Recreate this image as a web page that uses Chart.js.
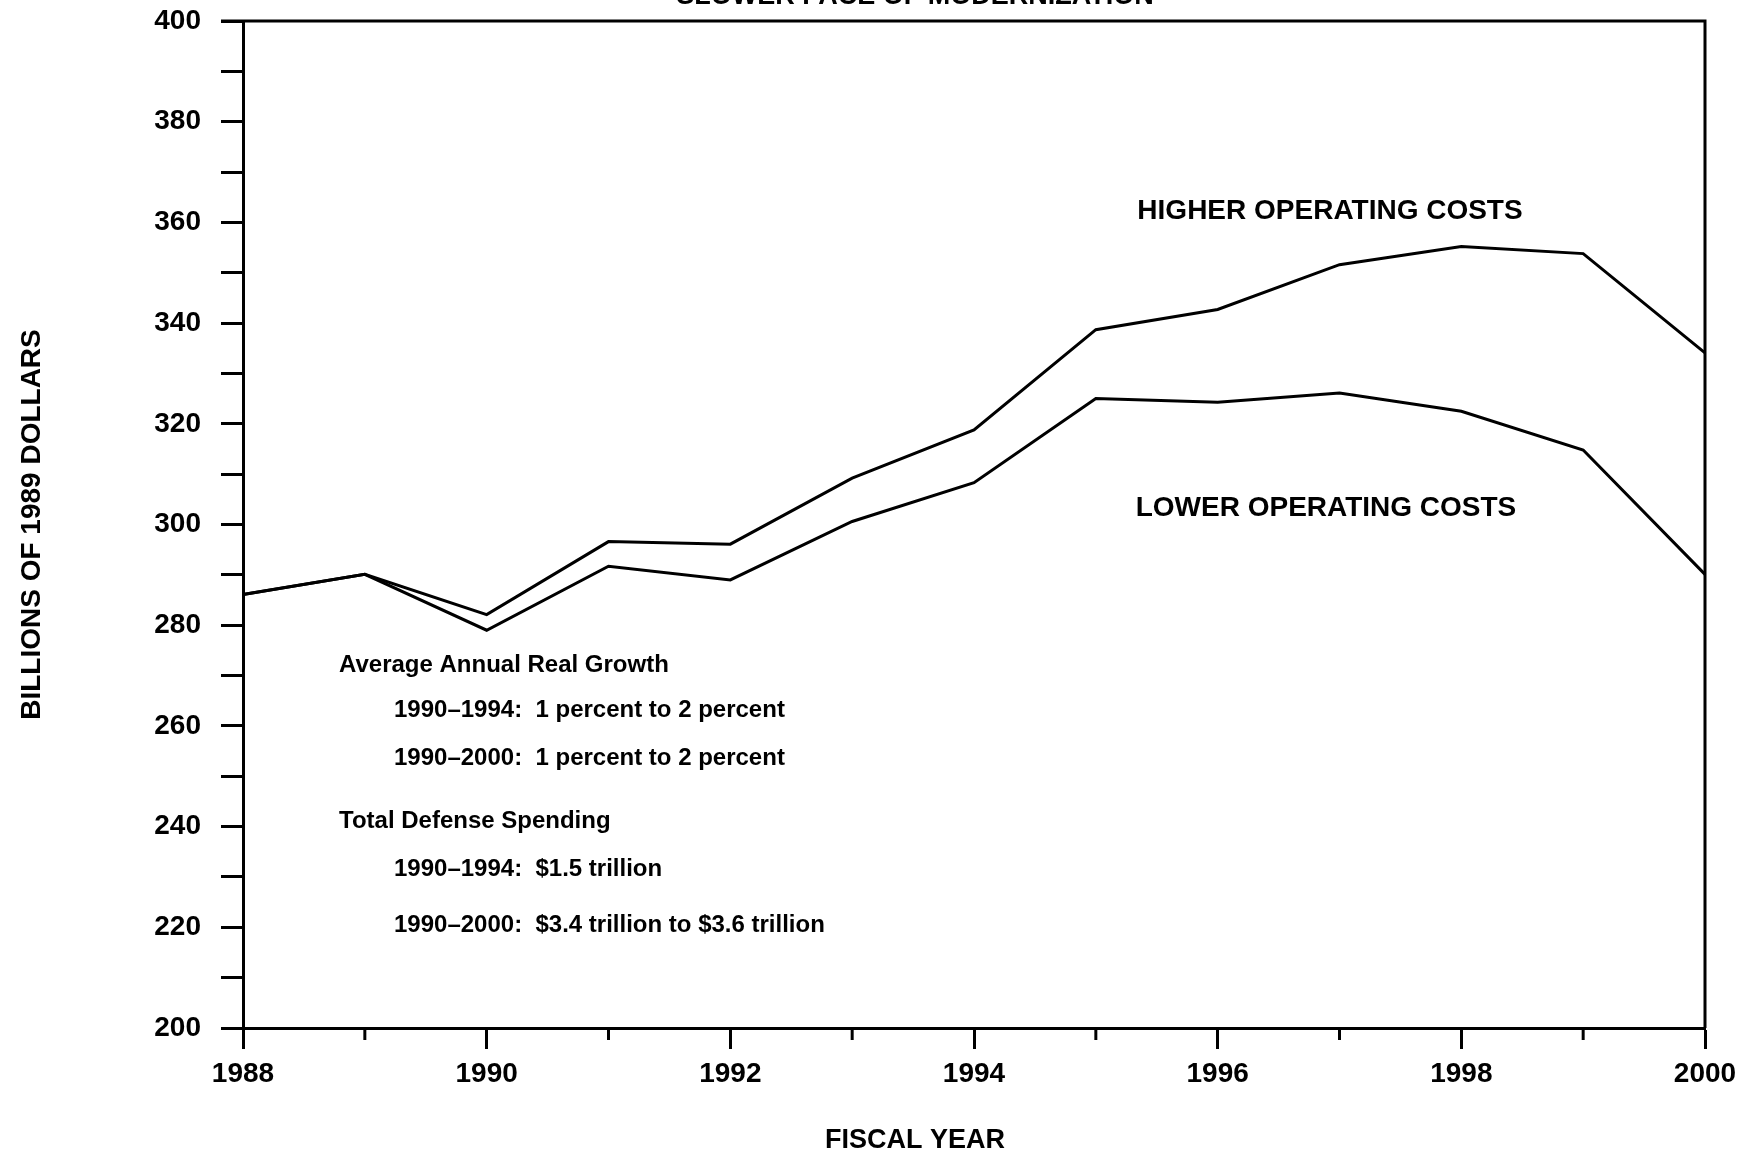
<!DOCTYPE html>
<html>
<head>
<meta charset="utf-8">
<script src="https://cdn.jsdelivr.net/npm/chart.js@4.4.1/dist/chart.umd.min.js"></script>
<style>
  body { margin: 0; background: #fff; }
  canvas { display: block; }
</style>
</head>
<body>
<canvas id="chart" width="1750" height="1156"></canvas>
<script>
// ============================= data

const years = ['1988', '1989', '1990', '1991', '1992', '1993', '1994', '1995', '1996', '1997', '1998', '1999', '2000']
const higherCosts = [286.1, 290.1, 282.1, 296.6, 296.1, 309.2, 318.8, 338.7, 342.7, 351.6, 355.2, 353.8, 334.1]
const lowerCosts = [286.1, 290.1, 279.0, 291.7, 289.0, 300.6, 308.3, 325.0, 324.3, 326.1, 322.5, 314.8, 290.1]

const chartTitle = 'SLOWER PACE OF MODERNIZATION'
const xTitle = 'FISCAL YEAR'
const yTitle = 'BILLIONS OF 1989 DOLLARS'
const seriesLabels = ['HIGHER OPERATING COSTS', 'LOWER OPERATING COSTS']
const noteHeads = ['Average Annual Real Growth', 'Total Defense Spending']
const noteLines = [
    '1990\u20131994:  1 percent to 2 percent',
    '1990\u20132000:  1 percent to 2 percent',
    '1990\u20131994:  $1.5 trillion',
    '1990\u20132000:  $3.4 trillion to $3.6 trillion'
]

const FONT = "'Liberation Sans', Arial, sans-serif"
Chart.defaults.font.family = FONT
Chart.defaults.color = '#000'

// ============================= frame, minor ticks and free text

const framePlugin = {
    id: 'frame',
    afterDraw(chart) {
        const { ctx, chartArea: a, scales: { x } } = chart
        ctx.save()
        ctx.strokeStyle = '#000'
        ctx.lineWidth = 3
        ctx.beginPath()
        ctx.moveTo(a.left - 22, a.top)   // top border starts at the 400 tick
        ctx.lineTo(a.right, a.top)
        ctx.lineTo(a.right, a.bottom)
        ctx.stroke()

        // short ticks on odd years
        for (let i = 1; i < years.length; i += 2) {
            const px = x.getPixelForValue(i)
            ctx.beginPath()
            ctx.moveTo(px, a.bottom)
            ctx.lineTo(px, a.bottom + 12)
            ctx.stroke()
        }

        ctx.fillStyle = '#000'
        ctx.textAlign = 'center'
        ctx.textBaseline = 'alphabetic'
        ctx.font = `bold 27px ${FONT}`
        ctx.fillText(chartTitle, 915, 4) // clipped at the top like the scan

        ctx.textBaseline = 'middle'
        ctx.font = `bold 27px ${FONT}`
        ctx.fillText(xTitle, 915, 1141)

        ctx.font = `bold 28px ${FONT}`
        ctx.fillText(seriesLabels[0], 1330, 211)
        ctx.fillText(seriesLabels[1], 1326, 508)

        ctx.textAlign = 'left'
        ctx.font = `bold 24px ${FONT}`
        ctx.fillText(noteHeads[0], 339, 665)
        ctx.fillText(noteLines[0], 394, 710)
        ctx.fillText(noteLines[1], 394, 758)
        ctx.fillText(noteHeads[1], 339, 821)
        ctx.fillText(noteLines[2], 394, 869)
        ctx.fillText(noteLines[3], 394, 925)
        ctx.restore()
    }
}

// ============================= chart

const lineStyle = { borderColor: '#000', borderWidth: 3, pointRadius: 0, tension: 0, fill: false }

new Chart(document.getElementById('chart'), {
    type: 'line',
    data: {
        labels: years,
        datasets: [
            { label: seriesLabels[0], data: higherCosts, ...lineStyle },
            { label: seriesLabels[1], data: lowerCosts, ...lineStyle }
        ]
    },
    options: {
        responsive: false,
        animation: false,
        layout: { padding: { left: 0, right: 45, top: 21, bottom: 0 } },
        plugins: {
            legend: { display: false },
            tooltip: { enabled: false }
        },
        scales: {
            x: {
                type: 'category',
                offset: false,
                afterFit: s => { s.height = 128 },
                grid: {
                    drawOnChartArea: false,
                    tickLength: 21,
                    tickWidth: 3,
                    tickColor: c => c.index % 2 ? 'rgba(0,0,0,0)' : '#000'
                },
                border: { color: '#000', width: 3 },
                ticks: {
                    autoSkip: false,
                    maxRotation: 0,
                    padding: 8,
                    font: { size: 28, weight: 'bold' },
                    callback: function (v, i) { return i % 2 ? '' : this.getLabelForValue(v) }
                }
            },
            y: {
                min: 200,
                max: 400,
                afterFit: s => { s.width = 243; s.paddingTop = 0; s.paddingBottom = 0 },
                grid: { drawOnChartArea: false, tickLength: 22, tickWidth: 3, tickColor: '#000' },
                border: { color: '#000', width: 3 },
                ticks: {
                    stepSize: 10,
                    padding: 20,
                    font: { size: 28, weight: 'bold' },
                    callback: v => v % 20 === 0 ? v : ''
                },
                title: {
                    display: true,
                    text: yTitle,
                    font: { size: 28, weight: 'bold' },
                    padding: { top: 15, bottom: 0 }
                }
            }
        }
    },
    plugins: [framePlugin]
})
</script>
</body>
</html>
